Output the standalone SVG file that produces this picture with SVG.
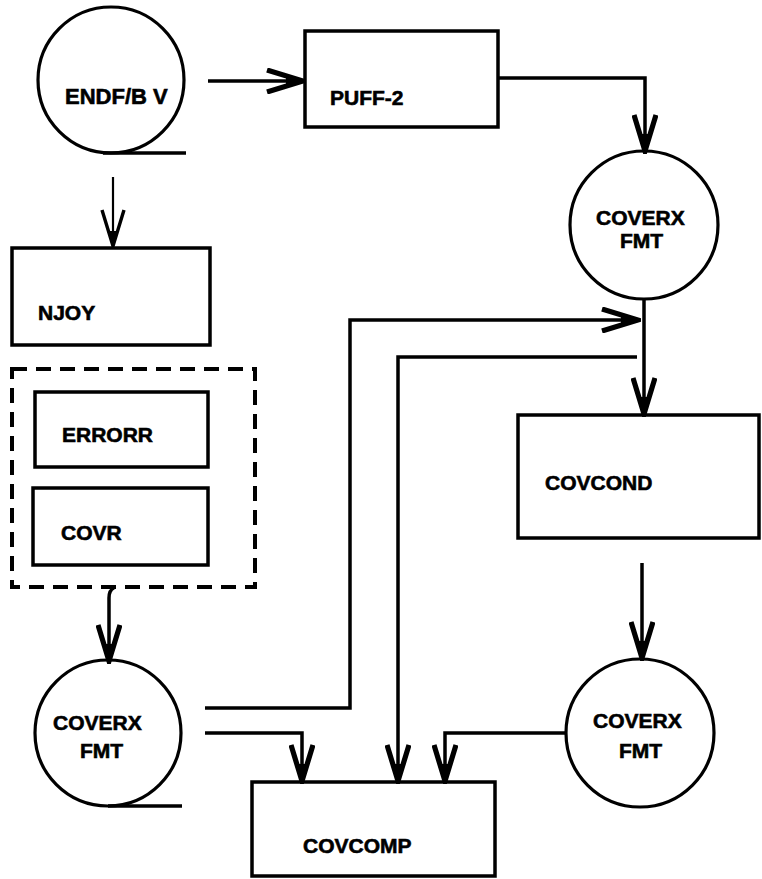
<svg xmlns="http://www.w3.org/2000/svg" width="762" height="879" viewBox="0 0 762 879">
<style>
.box{fill:none;stroke:#000;stroke-width:3.5}
.circ{fill:none;stroke:#000;stroke-width:3.2}
.dash{fill:none;stroke:#000;stroke-width:4;stroke-dasharray:15 9}
.ln{fill:none;stroke:#000;stroke-width:3.5;stroke-linejoin:miter}
.thin{fill:none;stroke:#000;stroke-width:2.2}
.lbl{font-family:"Liberation Sans",Arial,sans-serif;font-weight:bold;font-size:21px;fill:#000;stroke:#000;stroke-width:0.6}
</style>
<defs>
<marker id="arr" markerUnits="userSpaceOnUse" viewBox="0 0 42 26" refX="39" refY="13" markerWidth="42" markerHeight="26" orient="auto">
<path d="M3,2 L39,13 L3,24" fill="none" stroke="#000" stroke-width="5.2" stroke-linejoin="miter"/>
<path d="M22,9 L39,13 L22,17 Z" fill="#000"/>
</marker>
<marker id="arrThin" markerUnits="userSpaceOnUse" viewBox="0 0 42 26" refX="39" refY="13" markerWidth="42" markerHeight="26" orient="auto">
<path d="M3,2 L39,13 L3,24" fill="none" stroke="#000" stroke-width="3.4" stroke-linejoin="miter"/>
<path d="M24,9.5 L39,13 L24,16.5 Z" fill="#000"/>
</marker>
</defs>
<rect width="762" height="879" fill="#fff"/>

<g id="connectors">
<path class="ln" d="M208,81 H303" marker-end="url(#arr)"/>
<path class="thin" d="M113,177 V246" marker-end="url(#arrThin)"/>
<path class="ln" d="M498,78 H645 V151" marker-end="url(#arr)"/>
<path class="ln" d="M644,298 V414" marker-end="url(#arr)"/>
<path class="ln" d="M114,588 Q109,590 109,598 V661" marker-end="url(#arr)"/>
<path class="ln" d="M205,708 H350 V320 H638" marker-end="url(#arr)"/>
<path class="ln" d="M205,733 H302 V781" marker-end="url(#arr)"/>
<path class="ln" d="M637,357 H398 V781" marker-end="url(#arr)"/>
<path class="ln" d="M565,733 H445 V781" marker-end="url(#arr)"/>
<path class="ln" d="M642,563 V658" marker-end="url(#arr)"/>
</g>

<g id="endf">
<circle class="circ" cx="111" cy="80" r="73"/>
<line class="ln" x1="103" y1="153" x2="186" y2="153"/>
<text class="lbl" x="65" y="104" style="font-size:22px">ENDF/B V</text>
</g>

<g id="puff2">
<rect class="box" x="305" y="31" width="193" height="96"/>
<text class="lbl" x="330" y="105">PUFF-2</text>
</g>

<g id="coverx-top">
<circle class="circ" cx="644" cy="225" r="74"/>
<text class="lbl" x="596" y="225">COVERX</text>
<text class="lbl" x="620" y="248">FMT</text>
</g>

<g id="njoy">
<rect class="box" x="12" y="248" width="198" height="97"/>
<text class="lbl" x="38" y="320">NJOY</text>
</g>

<g id="njoy-modules">
<rect class="dash" x="12" y="369" width="243" height="218"/>
</g>

<g id="errorr">
<rect class="box" x="35" y="392" width="173" height="75"/>
<text class="lbl" x="62" y="442">ERRORR</text>
</g>

<g id="covr">
<rect class="box" x="33" y="488" width="175" height="77"/>
<text class="lbl" x="61" y="540">COVR</text>
</g>

<g id="covcond">
<rect class="box" x="518" y="415" width="241" height="123"/>
<text class="lbl" x="545" y="490">COVCOND</text>
</g>

<g id="coverx-left">
<circle class="circ" cx="108" cy="733" r="73"/>
<line class="ln" x1="108" y1="806" x2="182" y2="806"/>
<text class="lbl" x="53" y="730">COVERX</text>
<text class="lbl" x="80" y="758">FMT</text>
</g>

<g id="coverx-right">
<circle class="circ" cx="640" cy="733" r="74"/>
<text class="lbl" x="593" y="728">COVERX</text>
<text class="lbl" x="619" y="758">FMT</text>
</g>

<g id="covcomp">
<rect class="box" x="252" y="782" width="243" height="94"/>
<text class="lbl" x="303" y="853">COVCOMP</text>
</g>
</svg>
